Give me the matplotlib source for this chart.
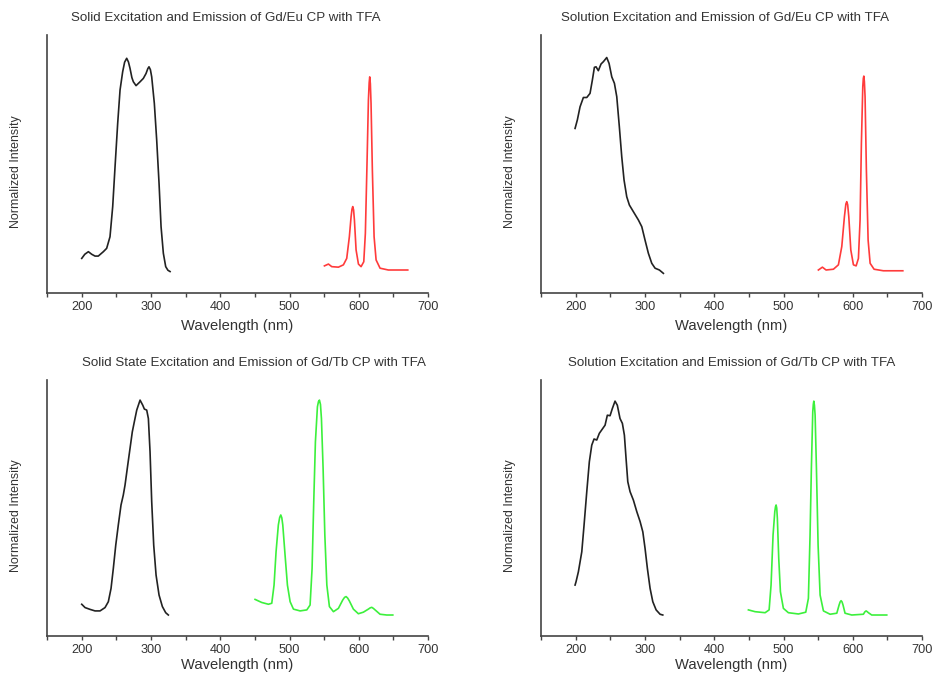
import matplotlib
matplotlib.use("Agg")
import matplotlib.pyplot as plt
from matplotlib.ticker import MultipleLocator

plt.rcParams["font.family"] = ["Liberation Sans", "DejaVu Sans"]

# Solid Gd/Eu: excitation (black) and emission (red)
eu_solid_ex_nm = [200.1, 204.5, 209.7, 214.5, 219.3, 224.0, 231.3, 236.1, 240.9, 244.8,
                  248.2, 252.0, 255.4, 259.2, 262.0, 265.0, 267.5, 269.8, 272.5, 274.6,
                  278.5, 284.3, 289.0, 292.9, 295.5, 297.2, 299.2, 301.1, 304.9, 308.3,
                  311.7, 314.6, 317.9, 321.3, 324.5, 327.6]
eu_solid_ex = [0.134, 0.150, 0.160, 0.150, 0.143, 0.143, 0.160, 0.173, 0.218, 0.335,
               0.490, 0.658, 0.787, 0.858, 0.895, 0.910, 0.896, 0.871, 0.835, 0.819,
               0.804, 0.819, 0.832, 0.851, 0.870, 0.877, 0.866, 0.838, 0.735, 0.593,
               0.425, 0.257, 0.154, 0.102, 0.088, 0.083]
eu_solid_em_nm = [550.4, 556.2, 561.0, 570.6, 577.8, 582.6, 586.4, 588.9, 590.2, 591.3,
                  592.5, 593.7, 596.1, 599.5, 603.3, 607.2, 609.5, 612.0, 613.9, 615.0,
                  615.8, 616.7, 617.7, 619.6, 622.1, 625.0, 630.7, 642.7, 670.7]
eu_solid_em = [0.105, 0.112, 0.102, 0.100, 0.109, 0.134, 0.218, 0.296, 0.325, 0.335,
               0.322, 0.283, 0.167, 0.112, 0.102, 0.121, 0.231, 0.516, 0.748, 0.815,
               0.838, 0.812, 0.735, 0.477, 0.218, 0.128, 0.096, 0.089, 0.089]

# Solution Gd/Eu
eu_sol_ex_nm = [199.1, 202.4, 206.3, 211.1, 216.0, 220.7, 224.1, 227.0, 229.4, 232.7,
                236.6, 240.0, 244.8, 248.2, 252.1, 255.9, 259.3, 263.0, 266.5, 269.8,
                273.7, 277.5, 283.3, 290.5, 295.4, 300.1, 304.9, 309.8, 314.6, 320.8, 326.6]
eu_sol_ex = [0.638, 0.671, 0.722, 0.758, 0.758, 0.774, 0.826, 0.875, 0.877, 0.862,
             0.888, 0.897, 0.913, 0.890, 0.838, 0.813, 0.761, 0.645, 0.528, 0.438,
             0.373, 0.341, 0.315, 0.283, 0.257, 0.205, 0.154, 0.115, 0.096, 0.089, 0.076]
eu_sol_em_nm = [550.3, 556.1, 561.4, 572.0, 579.2, 584.1, 587.9, 590.0, 591.3, 592.6,
                594.2, 597.1, 600.9, 604.8, 608.1, 610.5, 612.4, 614.4, 615.2, 615.9,
                616.7, 617.7, 619.6, 622.1, 625.0, 630.7, 644.1, 672.2]
eu_sol_em = [0.089, 0.100, 0.089, 0.092, 0.109, 0.180, 0.296, 0.345, 0.354, 0.342,
             0.296, 0.167, 0.109, 0.105, 0.134, 0.283, 0.580, 0.800, 0.832, 0.841,
             0.820, 0.761, 0.477, 0.205, 0.115, 0.092, 0.086, 0.086]

# Solid Gd/Tb: excitation (black) and emission (green)
tb_solid_ex_nm = [200.1, 204.9, 212.1, 219.3, 226.5, 233.7, 238.5, 242.4, 245.7, 249.2,
                  252.9, 256.8, 260.1, 262.6, 266.5, 269.8, 273.1, 276.0, 279.5, 284.3,
                  288.2, 290.5, 293.9, 296.3, 298.7, 301.1, 304.0, 307.4, 311.7, 316.5,
                  321.3, 325.1]
tb_solid_ex = [0.124, 0.111, 0.104, 0.098, 0.098, 0.111, 0.134, 0.186, 0.264, 0.355,
               0.434, 0.512, 0.551, 0.590, 0.668, 0.733, 0.798, 0.837, 0.883, 0.922,
               0.902, 0.887, 0.883, 0.850, 0.720, 0.525, 0.355, 0.238, 0.160, 0.115,
               0.091, 0.082]
tb_solid_em_nm = [450.3, 459.9, 469.6, 474.4, 477.7, 480.6, 483.9, 485.8, 487.4, 488.9,
                  490.3, 493.6, 497.0, 500.9, 505.7, 515.3, 525.0, 529.7, 532.6, 535.0,
                  537.4, 540.3, 541.8, 543.2, 544.7, 546.1, 548.5, 551.0, 553.9, 557.6,
                  563.4, 570.6, 576.9, 579.5, 581.7, 584.0, 586.4, 592.2, 599.4, 606.6,
                  613.8, 616.5, 618.7, 621.0, 623.5, 630.7, 640.4, 649.1]
tb_solid_em = [0.143, 0.131, 0.124, 0.128, 0.199, 0.329, 0.434, 0.463, 0.473, 0.462,
               0.434, 0.316, 0.199, 0.134, 0.105, 0.098, 0.102, 0.121, 0.264, 0.525,
               0.759, 0.896, 0.916, 0.922, 0.905, 0.850, 0.655, 0.395, 0.199, 0.115,
               0.095, 0.108, 0.141, 0.151, 0.154, 0.148, 0.137, 0.105, 0.087, 0.093,
               0.105, 0.110, 0.112, 0.108, 0.102, 0.085, 0.082, 0.082]

# Solution Gd/Tb
tb_sol_ex_nm = [199.1, 200.5, 203.9, 208.8, 212.1, 216.0, 219.7, 223.2, 226.5, 230.4,
                234.1, 238.5, 242.4, 245.7, 249.6, 252.9, 256.8, 260.1, 264.0, 267.4,
                270.3, 272.7, 275.2, 278.5, 283.3, 288.2, 293.0, 296.9, 300.1, 303.5,
                307.4, 311.3, 316.1, 321.8, 325.7]
tb_sol_ex = [0.199, 0.212, 0.251, 0.329, 0.434, 0.564, 0.681, 0.746, 0.770, 0.766,
             0.792, 0.809, 0.824, 0.863, 0.861, 0.889, 0.918, 0.902, 0.850, 0.831,
             0.785, 0.694, 0.603, 0.564, 0.531, 0.486, 0.447, 0.407, 0.343, 0.264,
             0.186, 0.134, 0.102, 0.085, 0.082]
tb_sol_em_nm = [449.3, 458.9, 473.4, 479.2, 482.0, 484.9, 487.4, 488.4, 489.3, 490.2,
                491.1, 493.1, 495.5, 499.8, 507.0, 521.5, 532.1, 535.9, 538.3, 540.2,
                542.2, 543.0, 543.7, 544.6, 545.6, 547.5, 549.9, 552.8, 557.6, 567.2,
                576.9, 580.2, 581.7, 583.1, 584.5, 585.9, 588.8, 598.5, 615.3, 617.3,
                619.2, 620.8, 622.5, 627.3, 649.0]
tb_sol_em = [0.102, 0.095, 0.091, 0.102, 0.199, 0.395, 0.486, 0.505, 0.512, 0.500,
             0.460, 0.303, 0.173, 0.108, 0.091, 0.086, 0.093, 0.147, 0.395, 0.655,
             0.876, 0.905, 0.918, 0.902, 0.863, 0.655, 0.355, 0.160, 0.098, 0.085,
             0.089, 0.121, 0.133, 0.138, 0.133, 0.121, 0.089, 0.082, 0.085, 0.094,
             0.098, 0.095, 0.091, 0.082, 0.082]

titles = ["Solid Excitation and Emission of Gd/Eu CP with TFA",
          "Solution Excitation and Emission of Gd/Eu CP with TFA",
          "Solid State Excitation and Emission of Gd/Tb CP with TFA",
          "Solution Excitation and Emission of Gd/Tb CP with TFA"]

panels = [
    (eu_solid_ex_nm, eu_solid_ex, eu_solid_em_nm, eu_solid_em, "#ff3b3b"),
    (eu_sol_ex_nm, eu_sol_ex, eu_sol_em_nm, eu_sol_em, "#ff3b3b"),
    (tb_solid_ex_nm, tb_solid_ex, tb_solid_em_nm, tb_solid_em, "#3cf03c"),
    (tb_sol_ex_nm, tb_sol_ex, tb_sol_em_nm, tb_sol_em, "#3cf03c"),
]

# axes boxes in figure fractions
boxes = [[0.0504, 0.566, 0.4084, 0.382],
         [0.5799, 0.566, 0.4084, 0.382],
         [0.0504, 0.0578, 0.4084, 0.379],
         [0.5799, 0.0578, 0.4084, 0.379]]
title_x = [0.47, 0.483, 0.543, 0.501]
xlab_y = [-0.10, -0.10, -0.088, -0.088]

fig = plt.figure(figsize=(9.33, 6.75), dpi=100)
text_col = "#333333"

for i, (ex_x, ex_y, em_x, em_y, col) in enumerate(panels):
    ax = fig.add_axes(boxes[i])
    ax.plot(ex_x, ex_y, color="#222222", lw=1.2, solid_joinstyle="round")
    ax.plot(em_x, em_y, color=col, lw=1.2, solid_joinstyle="round")
    ax.set_xlim(150, 700)
    ax.set_ylim(0, 1)
    ax.xaxis.set_major_locator(MultipleLocator(100))
    ax.xaxis.set_minor_locator(MultipleLocator(50))
    ax.set_yticks([])
    for s in ["top", "right"]:
        ax.spines[s].set_visible(False)
    for s in ["left", "bottom"]:
        ax.spines[s].set_color("#444444")
        ax.spines[s].set_linewidth(1.2)
    ax.tick_params(axis="x", which="both", direction="out", length=3,
                   width=1, color="#444444", labelsize=9.2, labelcolor=text_col, pad=3)
    ax.set_title(titles[i], fontsize=9.6, color=text_col, x=title_x[i], pad=10)
    ax.set_xlabel("Wavelength (nm)", fontsize=10.6, color=text_col)
    ax.xaxis.set_label_coords(0.5, xlab_y[i])
    ax.set_ylabel("Normalized Intensity", fontsize=8.9, color=text_col)
    ax.yaxis.set_label_coords(-0.066, 0.469)

fig.savefig("out.png", dpi=100)
